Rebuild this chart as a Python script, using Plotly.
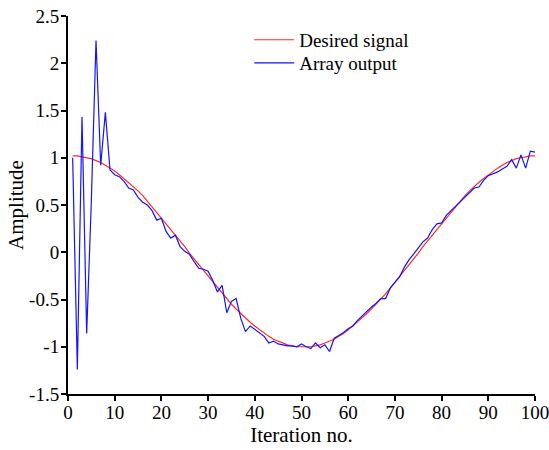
import plotly.graph_objects as go

iterations = list(range(1, 101))

desired_signal = [
    1.02, 1.02, 1.01, 1.00, 0.99, 0.97, 0.95, 0.92, 0.89, 0.86,
    0.82, 0.78, 0.74, 0.70, 0.65, 0.60, 0.54, 0.49, 0.43, 0.37,
    0.31, 0.25, 0.18, 0.12, 0.06, -0.01, -0.07, -0.13, -0.20, -0.26,
    -0.32, -0.38, -0.44, -0.50, -0.55, -0.60, -0.65, -0.70, -0.74, -0.78,
    -0.82, -0.86, -0.89, -0.92, -0.94, -0.96, -0.98, -0.99, -1.00, -1.00,
    -1.00, -1.00, -0.99, -0.98, -0.96, -0.94, -0.92, -0.89, -0.86, -0.82,
    -0.78, -0.74, -0.70, -0.65, -0.60, -0.55, -0.50, -0.44, -0.38, -0.32,
    -0.26, -0.20, -0.13, -0.07, -0.01, 0.06, 0.12, 0.18, 0.25, 0.31,
    0.37, 0.43, 0.49, 0.54, 0.60, 0.65, 0.70, 0.74, 0.78, 0.82,
    0.86, 0.89, 0.92, 0.95, 0.97, 0.99, 1.00, 1.01, 1.02, 1.02,
]

array_output = [
    1.00, -1.24, 1.43, -0.86, 0.55, 2.24, 0.92, 1.48, 0.87, 0.82,
    0.80, 0.75, 0.68, 0.66, 0.58, 0.53, 0.50, 0.44, 0.34, 0.36,
    0.22, 0.15, 0.18, 0.06, 0.01, -0.02, -0.10, -0.17, -0.18, -0.20,
    -0.30, -0.42, -0.35, -0.64, -0.52, -0.49, -0.70, -0.84, -0.78, -0.82,
    -0.86, -0.89, -0.96, -0.94, -0.97, -0.98, -0.99, -0.99, -1.00, -0.97,
    -1.00, -1.02, -0.96, -1.01, -0.98, -1.05, -0.91, -0.88, -0.85, -0.81,
    -0.78, -0.72, -0.67, -0.62, -0.58, -0.54, -0.49, -0.49, -0.38, -0.32,
    -0.26, -0.16, -0.08, -0.02, 0.04, 0.11, 0.15, 0.24, 0.30, 0.31,
    0.39, 0.44, 0.49, 0.53, 0.59, 0.64, 0.68, 0.69, 0.76, 0.81,
    0.83, 0.85, 0.88, 0.91, 0.98, 0.89, 1.03, 0.89, 1.07, 1.06,
]

x_tick_vals = [0, 10, 20, 30, 40, 50, 60, 70, 80, 90, 100]
x_tick_text = ["0", "10", "20", "30", "40", "50", "60", "70", "80", "90", "100"]
y_tick_vals = [-1.5, -1, -0.5, 0, 0.5, 1, 1.5, 2, 2.5]
y_tick_text = ["-1.5", "-1", "-0.5", "0", "0.5", "1", "1.5", "2", "2.5"]

FONT = "Times New Roman, Liberation Serif, DejaVu Serif, serif"

fig = go.Figure()
fig.add_trace(go.Scatter(x=iterations, y=desired_signal, mode="lines",
                         name="Desired signal", legend="legend",
                         line=dict(color="#ff2a2a", width=1.2)))
fig.add_trace(go.Scatter(x=iterations, y=array_output, mode="lines",
                         name="Array output", legend="legend2",
                         line=dict(color="#1414ff", width=1.2)))

legend_common = dict(xanchor="left", yanchor="top", bgcolor="rgba(0,0,0,0)",
                     font=dict(family=FONT, size=19), itemwidth=40)

fig.update_layout(
    width=549, height=450,
    margin=dict(l=68, r=14, t=16, b=56),
    paper_bgcolor="white", plot_bgcolor="white",
    font=dict(family=FONT, size=19, color="black"),
    showlegend=True,
    legend=dict(x=0.388, y=0.987, **legend_common),
    legend2=dict(x=0.388, y=0.926, **legend_common),
    xaxis=dict(range=[0, 100], tickvals=x_tick_vals, ticktext=x_tick_text,
               showgrid=False, zeroline=False, showline=True, automargin=False,
               linecolor="black", linewidth=2, ticks="outside",
               ticklen=5, tickwidth=2, tickcolor="black",
               ticklabelstandoff=-5, ticklabeloverflow="allow",
               title=dict(text="Iteration no.", font=dict(family=FONT, size=21),
                          standoff=0)),
    yaxis=dict(range=[-1.5, 2.5], tickvals=y_tick_vals, ticktext=y_tick_text,
               showgrid=False, zeroline=False, showline=True, automargin=False,
               linecolor="black", linewidth=2, ticks="outside",
               ticklen=5, tickwidth=2, tickcolor="black",
               ticklabelstandoff=-2, ticklabeloverflow="allow",
               title=dict(text="Amplitude", font=dict(family=FONT, size=21),
                          standoff=0)),
)

fig.write_html("out.html",
               config={"displayModeBar": False},
               post_script="document.body.style.margin='0';")
